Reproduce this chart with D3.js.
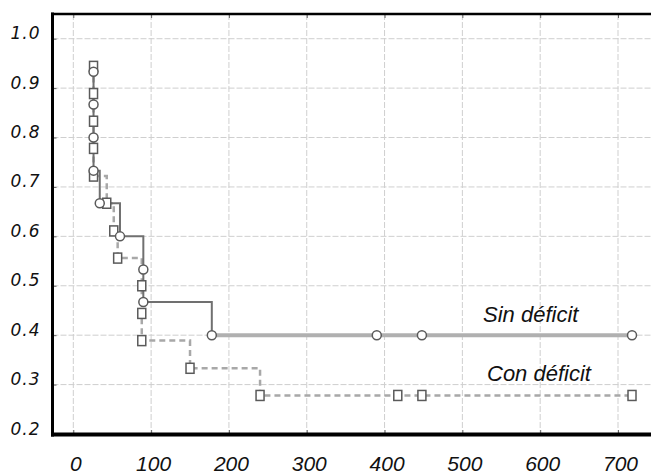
<!DOCTYPE html>
<html>
<head>
<meta charset="utf-8">
<script src="https://cdn.jsdelivr.net/npm/d3@7/dist/d3.min.js"></script>
<style>
  html, body { margin: 0; padding: 0; background: #fff; }
  svg { display: block; }
</style>
</head>
<body>
<svg id="chart" width="651" height="475"></svg>
<script>
// ---- Data ----
const xTicks = [0, 100, 200, 300, 400, 500, 600, 700];
const yTicks = [0.2, 0.3, 0.4, 0.5, 0.6, 0.7, 0.8, 0.9, 1.0];

// Sin déficit (solid line, circles): event times and survival after each event
const sinTimes = [26, 26, 26, 26, 34, 60, 90, 90, 178];
const sinSurv  = [0.933, 0.867, 0.800, 0.733, 0.667, 0.600, 0.533, 0.467, 0.400];
const sinCensored = [390, 448, 718];

// Con déficit (dashed line, squares)
const conTimes = [26, 26, 26, 26, 26, 43, 52, 57, 88, 88, 88, 150, 240];
const conSurv  = [0.944, 0.889, 0.833, 0.778, 0.722, 0.667, 0.611, 0.556, 0.500, 0.444, 0.389, 0.333, 0.278];
const conCensored = [417, 448, 718];

const seriesLabels = ["Sin déficit", "Con déficit"];

// ---- Layout ----
const svg = d3.select("#chart");
const W = 651;
const mLeft = 52.5, mTop = 14, mBottom = 434;

const x = d3.scaleLinear().domain([0, 700]).range([73.3, 618]);
const y = d3.scaleLinear().domain([0.2, 1.05]).range([mBottom, mTop]);

// Gridlines
const grid = svg.append("g").attr("class", "grid");
grid.selectAll("line.v").data(xTicks).join("line").attr("class", "v")
  .attr("x1", d => x(d)).attr("x2", d => x(d))
  .attr("y1", mTop).attr("y2", mBottom)
  .attr("stroke", "#cfcfcf").attr("stroke-width", 1).attr("stroke-dasharray", "6,2");
grid.selectAll("line.h").data(yTicks).join("line").attr("class", "h")
  .attr("x1", mLeft).attr("x2", W)
  .attr("y1", d => y(d)).attr("y2", d => y(d))
  .attr("stroke", "#cfcfcf").attr("stroke-width", 1).attr("stroke-dasharray", "6,2");

// Axes (inward ticks, labels)
const yAxis = d3.axisLeft(y).tickValues(yTicks).tickFormat(d3.format(".1f"))
  .tickSizeInner(-4).tickSizeOuter(0).tickPadding(12);
const gy = svg.append("g").attr("transform", `translate(${mLeft},0)`).call(yAxis);
gy.select(".domain").remove();
gy.selectAll(".tick line").attr("stroke", "#666");
gy.selectAll(".tick text")
  .attr("dy", "0").attr("fill", "#111")
  .style("font-family", "'DejaVu Sans', Verdana, sans-serif")
  .style("font-style", "italic").style("font-size", "17px")
  .style("letter-spacing", "1px");

const xAxis = d3.axisBottom(x).tickValues(xTicks).tickFormat(d3.format("d"))
  .tickSizeInner(-4).tickSizeOuter(0).tickPadding(37);
const gx = svg.append("g").attr("transform", `translate(0,${mBottom})`).call(xAxis);
gx.select(".domain").remove();
gx.selectAll(".tick line").attr("stroke", "#666");
gx.selectAll(".tick text")
  .attr("dy", "0").attr("dx", "2").attr("fill", "#111")
  .style("font-family", "'Liberation Sans', Arial, sans-serif")
  .style("font-style", "italic").style("font-size", "21px");

const xTop = d3.axisTop(x).tickValues(xTicks).tickFormat("")
  .tickSizeInner(-4).tickSizeOuter(0);
const gt = svg.append("g").attr("transform", `translate(0,${mTop})`).call(xTop);
gt.select(".domain").remove();
gt.selectAll(".tick line").attr("stroke", "#666");

// ---- KM step paths ----
function stepPoints(times, surv) {
  const pts = [[times[0], surv[0]]];
  for (let i = 1; i < times.length; i++) {
    pts.push([times[i], surv[i - 1]]);
    pts.push([times[i], surv[i]]);
  }
  return pts;
}
const line = d3.line().x(d => x(d[0])).y(d => y(d[1]));

// Con déficit
const conPts = stepPoints(conTimes, conSurv);
conPts.push([d3.max(conCensored), conSurv[conSurv.length - 1]]);
svg.append("path").attr("d", line(conPts))
  .attr("fill", "none").attr("stroke", "#a8a8a8").attr("stroke-width", 2.5)
  .attr("stroke-dasharray", "6,4");

// Sin déficit
const sinPts = stepPoints(sinTimes, sinSurv);
svg.append("path").attr("d", line(sinPts))
  .attr("fill", "none").attr("stroke", "#707070").attr("stroke-width", 2);
const sinTail = [[sinTimes[sinTimes.length - 1], sinSurv[sinSurv.length - 1]],
                 [d3.max(sinCensored), sinSurv[sinSurv.length - 1]]];
svg.append("path").attr("d", line(sinTail))
  .attr("fill", "none").attr("stroke", "#b0b0b0").attr("stroke-width", 4);

// ---- Markers ----
const conMarks = conTimes.map((t, i) => [t, conSurv[i]])
  .concat(conCensored.map(t => [t, conSurv[conSurv.length - 1]]));
svg.append("g").selectAll("rect").data(conMarks).join("rect")
  .attr("x", d => x(d[0]) - 4).attr("y", d => y(d[1]) - 5)
  .attr("width", 8).attr("height", 10)
  .attr("fill", "#fff").attr("stroke", "#5a5a5a").attr("stroke-width", 1.5);

const sinMarks = sinTimes.map((t, i) => [t, sinSurv[i]])
  .concat(sinCensored.map(t => [t, sinSurv[sinSurv.length - 1]]));
svg.append("g").selectAll("circle").data(sinMarks).join("circle")
  .attr("cx", d => x(d[0])).attr("cy", d => y(d[1])).attr("r", 4.5)
  .attr("fill", "#fff").attr("stroke", "#5a5a5a").attr("stroke-width", 1.5);

// ---- Frame ----
svg.append("line").attr("x1", mLeft).attr("x2", mLeft).attr("y1", mTop - 1.5).attr("y2", mBottom + 2.5)
  .attr("stroke", "#000").attr("stroke-width", 3);
svg.append("line").attr("x1", mLeft - 1.5).attr("x2", W).attr("y1", mTop).attr("y2", mTop)
  .attr("stroke", "#000").attr("stroke-width", 2.5);
svg.append("line").attr("x1", mLeft - 1.5).attr("x2", W).attr("y1", mBottom + 0.5).attr("y2", mBottom + 0.5)
  .attr("stroke", "#000").attr("stroke-width", 4);

// ---- Series labels ----
const lab = svg.append("g")
  .style("font-family", "'Liberation Sans', Arial, sans-serif")
  .style("font-style", "italic").style("font-size", "22px").attr("fill", "#111");
lab.append("text").attr("x", 483).attr("y", 321.5).text(seriesLabels[0]);
lab.append("text").attr("x", 487).attr("y", 381).text(seriesLabels[1]);
</script>
</body>
</html>
